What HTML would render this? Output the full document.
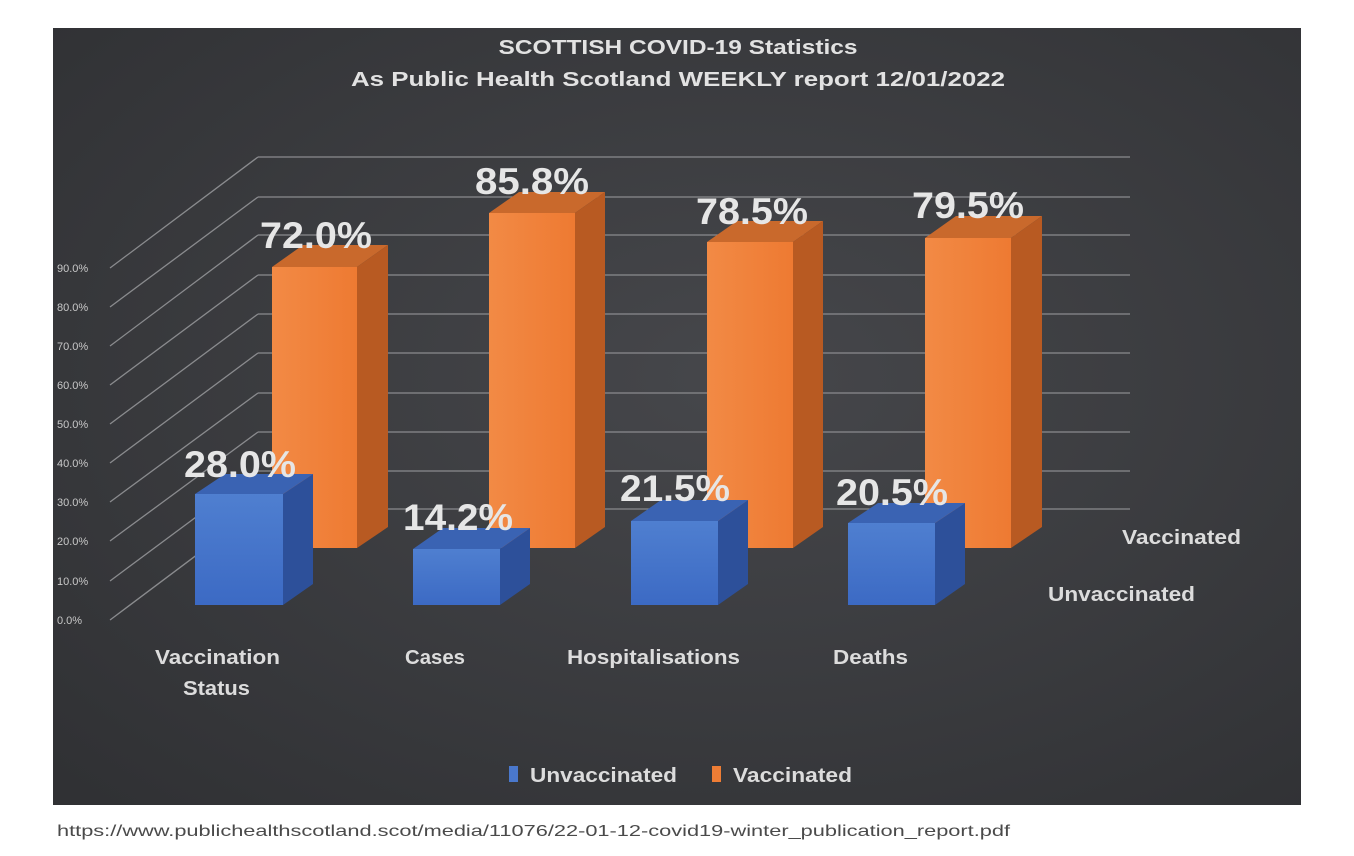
<!DOCTYPE html>
<html><head><meta charset="utf-8"><style>
html,body{margin:0;padding:0;background:#fff;width:1354px;height:856px;overflow:hidden}
svg{display:block}
text{font-family:"Liberation Sans",sans-serif;}
</style></head><body>
<svg width="1354" height="856" viewBox="0 0 1354 856">
<defs>
<radialGradient id="bg" cx="0.55" cy="0.45" r="0.75">
<stop offset="0" stop-color="#46474b"/><stop offset="1" stop-color="#303134"/>
</radialGradient>
<linearGradient id="of" x1="0" x2="1"><stop offset="0" stop-color="#f28a45"/><stop offset="1" stop-color="#ee7a32"/></linearGradient>
<linearGradient id="bf" x1="0" y1="0" x2="0" y2="1"><stop offset="0" stop-color="#4f7fd0"/><stop offset="1" stop-color="#3c6ac4"/></linearGradient>
</defs>
<rect x="53" y="28" width="1248" height="777" fill="url(#bg)"/>
<g stroke="#8a8b8e" stroke-width="1.3" fill="none">
<path d="M258 157H1130M258 197H1130M258 235H1130M258 275H1130M258 314H1130M258 353H1130M258 393H1130M258 432H1130M258 471H1130M258 509H1130"/>
<path d="M110 268L258 157M110 307L258 197M110 346L258 235M110 385L258 275M110 424L258 314M110 463L258 353M110 502L258 393M110 541L258 432M110 581L258 471M110 620L258 509"/>
</g>
<g fill="#c8c8c8" font-size="11">
<text x="57" y="272">90.0%</text><text x="57" y="311">80.0%</text><text x="57" y="350">70.0%</text><text x="57" y="389">60.0%</text><text x="57" y="428">50.0%</text><text x="57" y="467">40.0%</text><text x="57" y="506">30.0%</text><text x="57" y="545">20.0%</text><text x="57" y="585">10.0%</text><text x="57" y="624">0.0%</text>
</g>
<g font-size="20" font-weight="bold" fill="#e2e2e2" text-anchor="middle">
<text x="678" y="54" textLength="359" lengthAdjust="spacingAndGlyphs">SCOTTISH COVID-19 Statistics</text>
<text x="678" y="86" textLength="654" lengthAdjust="spacingAndGlyphs">As Public Health Scotland WEEKLY report 12/01/2022</text>
</g>
<g>
<polygon points="272,267 357,267 388,245 303,245" fill="#c9692c"/>
<polygon points="357,267 388,245 388,527 357,548" fill="#b85a22"/>
<rect x="272" y="267" width="85" height="281" fill="url(#of)"/>
<polygon points="489,213 575,213 605,192 519,192" fill="#c9692c"/>
<polygon points="575,213 605,192 605,527 575,548" fill="#b85a22"/>
<rect x="489" y="213" width="86" height="335" fill="url(#of)"/>
<polygon points="707,242 793,242 823,221 737,221" fill="#c9692c"/>
<polygon points="793,242 823,221 823,527 793,548" fill="#b85a22"/>
<rect x="707" y="242" width="86" height="306" fill="url(#of)"/>
<polygon points="925,238 1011,238 1042,216 956,216" fill="#c9692c"/>
<polygon points="1011,238 1042,216 1042,527 1011,548" fill="#b85a22"/>
<rect x="925" y="238" width="86" height="310" fill="url(#of)"/>
</g>
<g>
<polygon points="195,494 283,494 313,474 225,474" fill="#3a63b3"/>
<polygon points="283,494 313,474 313,584 283,605" fill="#2d509a"/>
<rect x="195" y="494" width="88" height="111" fill="url(#bf)"/>
<polygon points="413,549 500,549 530,528 443,528" fill="#3a63b3"/>
<polygon points="500,549 530,528 530,584 500,605" fill="#2d509a"/>
<rect x="413" y="549" width="87" height="56" fill="url(#bf)"/>
<polygon points="631,521 718,521 748,500 661,500" fill="#3a63b3"/>
<polygon points="718,521 748,500 748,584 718,605" fill="#2d509a"/>
<rect x="631" y="521" width="87" height="84" fill="url(#bf)"/>
<polygon points="848,523 935,523 965,503 878,503" fill="#3a63b3"/>
<polygon points="935,523 965,503 965,584 935,605" fill="#2d509a"/>
<rect x="848" y="523" width="87" height="82" fill="url(#bf)"/>
</g>
<g font-size="37" font-weight="bold" fill="#e6e6e6" text-anchor="middle">
<text x="316" y="248" textLength="112" lengthAdjust="spacingAndGlyphs">72.0%</text>
<text x="532" y="194" textLength="114" lengthAdjust="spacingAndGlyphs">85.8%</text>
<text x="752" y="224" textLength="112" lengthAdjust="spacingAndGlyphs">78.5%</text>
<text x="968" y="218" textLength="112" lengthAdjust="spacingAndGlyphs">79.5%</text>
<text x="240" y="477" textLength="112" lengthAdjust="spacingAndGlyphs">28.0%</text>
<text x="458" y="530" textLength="110" lengthAdjust="spacingAndGlyphs">14.2%</text>
<text x="675" y="501" textLength="110" lengthAdjust="spacingAndGlyphs">21.5%</text>
<text x="892" y="505" textLength="112" lengthAdjust="spacingAndGlyphs">20.5%</text>
</g>
<g font-size="20" font-weight="bold" fill="#dcdcdc">
<text x="155" y="664" textLength="125" lengthAdjust="spacingAndGlyphs">Vaccination</text>
<text x="183" y="695" textLength="67" lengthAdjust="spacingAndGlyphs">Status</text>
<text x="405" y="664" textLength="60" lengthAdjust="spacingAndGlyphs">Cases</text>
<text x="567" y="664" textLength="173" lengthAdjust="spacingAndGlyphs">Hospitalisations</text>
<text x="833" y="664" textLength="75" lengthAdjust="spacingAndGlyphs">Deaths</text>
<text x="1122" y="544" textLength="119" lengthAdjust="spacingAndGlyphs">Vaccinated</text>
<text x="1048" y="601" textLength="147" lengthAdjust="spacingAndGlyphs">Unvaccinated</text>
<text x="530" y="782" textLength="147" lengthAdjust="spacingAndGlyphs">Unvaccinated</text>
<text x="733" y="782" textLength="119" lengthAdjust="spacingAndGlyphs">Vaccinated</text>
</g>
<rect x="509" y="766" width="9" height="16" fill="#4a78cc"/>
<rect x="712" y="766" width="9" height="16" fill="#ee7d35"/>
<text x="57" y="836" font-size="16" fill="#4a4a4a" textLength="953" lengthAdjust="spacingAndGlyphs">https://www.publichealthscotland.scot/media/11076/22-01-12-covid19-winter_publication_report.pdf</text>
</svg>
</body></html>
